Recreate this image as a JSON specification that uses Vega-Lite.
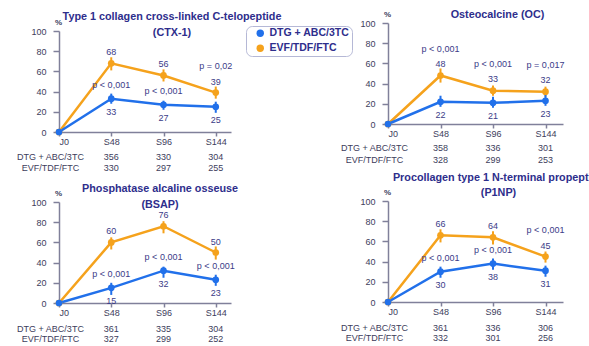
{
  "$schema": "https://vega.github.io/schema/vega-lite/v6.json",
  "padding": {"left": 16, "top": 9, "right": 0, "bottom": 0},
  "datasets": {
    "pts": [
      {"panel": "CTX", "week": 0, "group": "EVF/TDF/FTC", "value": 0, "lo": null, "hi": null, "n": null, "p": null},
      {"panel": "CTX", "week": 48, "group": "EVF/TDF/FTC", "value": 68, "lo": 61, "hi": 74, "n": 330, "p": null},
      {"panel": "CTX", "week": 96, "group": "EVF/TDF/FTC", "value": 56, "lo": 50, "hi": 62, "n": 297, "p": null},
      {"panel": "CTX", "week": 144, "group": "EVF/TDF/FTC", "value": 39, "lo": 33, "hi": 45, "n": 255, "p": "p = 0,02"},
      {"panel": "CTX", "week": 0, "group": "DTG + ABC/3TC", "value": 0, "lo": null, "hi": null, "n": null, "p": null},
      {"panel": "CTX", "week": 48, "group": "DTG + ABC/3TC", "value": 33, "lo": 28, "hi": 38, "n": 356, "p": "p < 0,001"},
      {"panel": "CTX", "week": 96, "group": "DTG + ABC/3TC", "value": 27, "lo": 22, "hi": 31, "n": 330, "p": "p < 0,001"},
      {"panel": "CTX", "week": 144, "group": "DTG + ABC/3TC", "value": 25, "lo": 19, "hi": 30, "n": 304, "p": null},

      {"panel": "OC", "week": 0, "group": "EVF/TDF/FTC", "value": 0, "lo": null, "hi": null, "n": null, "p": null},
      {"panel": "OC", "week": 48, "group": "EVF/TDF/FTC", "value": 48, "lo": 41, "hi": 55, "n": 328, "p": "p < 0,001"},
      {"panel": "OC", "week": 96, "group": "EVF/TDF/FTC", "value": 33, "lo": 28, "hi": 38, "n": 299, "p": "p < 0,001"},
      {"panel": "OC", "week": 144, "group": "EVF/TDF/FTC", "value": 32, "lo": 27, "hi": 37, "n": 253, "p": "p  = 0,017"},
      {"panel": "OC", "week": 0, "group": "DTG + ABC/3TC", "value": 0, "lo": null, "hi": null, "n": null, "p": null},
      {"panel": "OC", "week": 48, "group": "DTG + ABC/3TC", "value": 22, "lo": 17, "hi": 28, "n": 358, "p": null},
      {"panel": "OC", "week": 96, "group": "DTG + ABC/3TC", "value": 21, "lo": 16, "hi": 27, "n": 336, "p": null},
      {"panel": "OC", "week": 144, "group": "DTG + ABC/3TC", "value": 23, "lo": 18, "hi": 30, "n": 301, "p": null},

      {"panel": "BSAP", "week": 0, "group": "EVF/TDF/FTC", "value": 0, "lo": null, "hi": null, "n": null, "p": null},
      {"panel": "BSAP", "week": 48, "group": "EVF/TDF/FTC", "value": 60, "lo": 53, "hi": 65, "n": 327, "p": null},
      {"panel": "BSAP", "week": 96, "group": "EVF/TDF/FTC", "value": 76, "lo": 69, "hi": 81, "n": 299, "p": null},
      {"panel": "BSAP", "week": 144, "group": "EVF/TDF/FTC", "value": 50, "lo": 43, "hi": 56, "n": 252, "p": null},
      {"panel": "BSAP", "week": 0, "group": "DTG + ABC/3TC", "value": 0, "lo": null, "hi": null, "n": null, "p": null},
      {"panel": "BSAP", "week": 48, "group": "DTG + ABC/3TC", "value": 15, "lo": 8, "hi": 20, "n": 361, "p": "p < 0,001"},
      {"panel": "BSAP", "week": 96, "group": "DTG + ABC/3TC", "value": 32, "lo": 25, "hi": 36, "n": 335, "p": "p < 0,001"},
      {"panel": "BSAP", "week": 144, "group": "DTG + ABC/3TC", "value": 23, "lo": 17, "hi": 28, "n": 304, "p": "p < 0,001"},

      {"panel": "P1NP", "week": 0, "group": "EVF/TDF/FTC", "value": 0, "lo": null, "hi": null, "n": null, "p": null},
      {"panel": "P1NP", "week": 48, "group": "EVF/TDF/FTC", "value": 66, "lo": 59, "hi": 72, "n": 332, "p": null},
      {"panel": "P1NP", "week": 96, "group": "EVF/TDF/FTC", "value": 64, "lo": 57, "hi": 70, "n": 301, "p": null},
      {"panel": "P1NP", "week": 144, "group": "EVF/TDF/FTC", "value": 45, "lo": 39, "hi": 50, "n": 256, "p": "p < 0,001"},
      {"panel": "P1NP", "week": 0, "group": "DTG + ABC/3TC", "value": 0, "lo": null, "hi": null, "n": null, "p": null},
      {"panel": "P1NP", "week": 48, "group": "DTG + ABC/3TC", "value": 30, "lo": 24, "hi": 35, "n": 361, "p": "p < 0,001"},
      {"panel": "P1NP", "week": 96, "group": "DTG + ABC/3TC", "value": 38, "lo": 32, "hi": 43, "n": 336, "p": "p < 0,001"},
      {"panel": "P1NP", "week": 144, "group": "DTG + ABC/3TC", "value": 31, "lo": 25, "hi": 36, "n": 306, "p": null}
    ]
  },
  "config": {
    "font": "Liberation Sans",
    "view": {"stroke": null},
    "axis": {"grid": false, "domainColor": "#80809a", "tickColor": "#80809a", "domainWidth": 1.5, "tickWidth": 1.5, "labelColor": "#3d3d5c", "labelFontSize": 9, "labelFont": "Liberation Sans"},
    "axisX": {"tickSize": 4, "labelPadding": 1},
    "axisY": {"tickCount": 6, "tickSize": 6, "labelPadding": 7, "titleAngle": 0, "titleX": -1, "titleY": -9, "titleAlign": "center", "titleBaseline": "middle", "titleFontSize": 8, "titleFont": "Liberation Sans", "titleFontWeight": "bold", "titleColor": "#3d3d5c"},
    "title": {"color": "#2e2e8c", "fontSize": 10.8, "font": "Liberation Sans", "fontWeight": "bold", "anchor": "middle", "frame": "group"},
    "text": {"font": "Liberation Sans", "fontSize": 9, "color": "#3b3b88"},
    "legend": {"orient": "none", "legendX": 187, "legendY": 3, "title": null, "strokeColor": "#b5b8d6", "cornerRadius": 6, "padding": 2, "symbolOffset": 7, "fillColor": "#ffffff", "labelFont": "Liberation Sans", "labelFontWeight": "bold", "labelFontSize": 10.5, "labelColor": "#2e2e8c", "symbolType": "circle", "symbolSize": 55, "rowPadding": 4, "symbolStrokeWidth": 0}
  },
  "spacing": 58,
  "align": "none",
  "hconcat": [
    {
      "bounds": "flush",
      "spacing": 0,
      "vconcat": [
        {"width": 172, "height": 8, "data": {"values": []}, "mark": "point"},
        {
          "width": 172, "height": 101,
          "title": {"text": ["Type 1 collagen cross-linked C-telopeptide", "(CTX-1)"], "dx": 27, "dy": 15, "offset": -5, "lineHeight": 16},
          "data": {"name": "pts"},
          "transform": [{"filter": "datum.panel === 'CTX'"}],
          "encoding": {
            "x": {"field": "week", "type": "quantitative", "scale": {"domain": [0, 158]}, "axis": {"values": [0, 48, 96, 144], "labelExpr": "datum.value === 0 ? 'J0' : 'S' + datum.value", "title": null}},
            "color": {"field": "group", "type": "nominal", "scale": {"domain": ["DTG + ABC/3TC", "EVF/TDF/FTC"], "range": ["#2170ea", "#f5a21c"]}, "title": null}
          },
          "layer": [
            {"mark": {"type": "rule", "strokeWidth": 2}, "encoding": {"y": {"field": "lo", "type": "quantitative", "scale": {"domain": [0, 100]}, "title": "%"}, "y2": {"field": "hi"}}},
            {"mark": {"type": "line", "strokeWidth": 2.5}, "encoding": {"y": {"field": "value", "type": "quantitative", "title": "%"}}},
            {"mark": {"type": "point", "filled": true, "opacity": 1, "size": 45}, "encoding": {"y": {"field": "value", "type": "quantitative", "title": "%"}}},
            {"transform": [{"filter": "datum.week > 0 && datum.group === 'EVF/TDF/FTC'"}], "mark": {"type": "text", "dy": -11}, "encoding": {"y": {"field": "value", "type": "quantitative", "title": "%"}, "text": {"field": "value"}, "color": {"value": "#3b3b88"}}},
            {"transform": [{"filter": "datum.week > 0 && datum.group === 'DTG + ABC/3TC'"}], "mark": {"type": "text", "dy": 13}, "encoding": {"y": {"field": "value", "type": "quantitative", "title": "%"}, "text": {"field": "value"}, "color": {"value": "#3b3b88"}}},
            {"transform": [{"filter": "datum.p !== null && datum.group === 'EVF/TDF/FTC'"}], "mark": {"type": "text", "dy": -27}, "encoding": {"y": {"field": "value", "type": "quantitative", "title": "%"}, "text": {"field": "p"}, "color": {"value": "#3b3b88"}}},
            {"transform": [{"filter": "datum.p !== null && datum.group === 'DTG + ABC/3TC'"}], "mark": {"type": "text", "dy": -14}, "encoding": {"y": {"field": "value", "type": "quantitative", "title": "%"}, "text": {"field": "p"}, "color": {"value": "#3b3b88"}}}
          ]
        },
        {
          "width": 172, "height": 41.5,
          "data": {"name": "pts"},
          "transform": [{"filter": "datum.panel === 'CTX' && datum.week > 0"}],
          "mark": {"type": "text", "color": "#3d3d5c"},
          "encoding": {
            "x": {"field": "week", "type": "quantitative", "scale": {"domain": [0, 158]}, "axis": null},
            "y": {"field": "group", "type": "nominal", "scale": {"type": "band", "domain": ["DTG + ABC/3TC", "EVF/TDF/FTC"], "paddingInner": 0, "paddingOuter": 0.886, "align": 1}, "axis": {"title": null, "domain": false, "ticks": false, "tickSize": 0, "labelAlign": "center", "labelPadding": 9, "labelColor": "#3d3d5c"}},
            "text": {"field": "n"}
          }
        },
        {"width": 172, "height": 27.5, "data": {"values": []}, "mark": "point"},
        {
          "width": 172, "height": 101,
          "title": {"text": ["Phosphatase alcaline osseuse", "(BSAP)"], "dx": 15, "dy": 13, "offset": -8, "lineHeight": 16},
          "data": {"name": "pts"},
          "transform": [{"filter": "datum.panel === 'BSAP'"}],
          "encoding": {
            "x": {"field": "week", "type": "quantitative", "scale": {"domain": [0, 158]}, "axis": {"values": [0, 48, 96, 144], "labelExpr": "datum.value === 0 ? 'J0' : 'S' + datum.value", "title": null}},
            "color": {"field": "group", "type": "nominal", "scale": {"domain": ["DTG + ABC/3TC", "EVF/TDF/FTC"], "range": ["#2170ea", "#f5a21c"]}, "title": null}
          },
          "layer": [
            {"mark": {"type": "rule", "strokeWidth": 2}, "encoding": {"y": {"field": "lo", "type": "quantitative", "scale": {"domain": [0, 100]}, "title": "%"}, "y2": {"field": "hi"}}},
            {"mark": {"type": "line", "strokeWidth": 2.5}, "encoding": {"y": {"field": "value", "type": "quantitative", "title": "%"}}},
            {"mark": {"type": "point", "filled": true, "opacity": 1, "size": 45}, "encoding": {"y": {"field": "value", "type": "quantitative", "title": "%"}}},
            {"transform": [{"filter": "datum.week > 0 && datum.group === 'EVF/TDF/FTC'"}], "mark": {"type": "text", "dy": -11}, "encoding": {"y": {"field": "value", "type": "quantitative", "title": "%"}, "text": {"field": "value"}, "color": {"value": "#3b3b88"}}},
            {"transform": [{"filter": "datum.week > 0 && datum.group === 'DTG + ABC/3TC'"}], "mark": {"type": "text", "dy": 13}, "encoding": {"y": {"field": "value", "type": "quantitative", "title": "%"}, "text": {"field": "value"}, "color": {"value": "#3b3b88"}}},
            {"transform": [{"filter": "datum.p !== null && datum.group === 'EVF/TDF/FTC'"}], "mark": {"type": "text", "dy": -27}, "encoding": {"y": {"field": "value", "type": "quantitative", "title": "%"}, "text": {"field": "p"}, "color": {"value": "#3b3b88"}}},
            {"transform": [{"filter": "datum.p !== null && datum.group === 'DTG + ABC/3TC'"}], "mark": {"type": "text", "dy": -14}, "encoding": {"y": {"field": "value", "type": "quantitative", "title": "%"}, "text": {"field": "p"}, "color": {"value": "#3b3b88"}}}
          ]
        },
        {"width": 172, "height": 21, "data": {"values": []}, "mark": "point"},
        {
          "width": 172, "height": 20,
          "data": {"name": "pts"},
          "transform": [{"filter": "datum.panel === 'BSAP' && datum.week > 0"}],
          "mark": {"type": "text", "color": "#3d3d5c"},
          "encoding": {
            "x": {"field": "week", "type": "quantitative", "scale": {"domain": [0, 158]}, "axis": null},
            "y": {"field": "group", "type": "nominal", "scale": {"type": "band", "domain": ["DTG + ABC/3TC", "EVF/TDF/FTC"], "paddingInner": 0, "paddingOuter": 0, "align": 0}, "axis": {"title": null, "domain": false, "ticks": false, "tickSize": 0, "labelAlign": "center", "labelPadding": 9, "labelColor": "#3d3d5c"}},
            "text": {"field": "n"}
          }
        }
      ]
    },
    {
      "bounds": "flush",
      "spacing": 18,
      "vconcat": [
        {
          "width": 175, "height": 101,
          "title": {"text": "Osteocalcine (OC)", "dx": 22, "dy": 15, "offset": 5},
          "data": {"name": "pts"},
          "transform": [{"filter": "datum.panel === 'OC'"}],
          "encoding": {
            "x": {"field": "week", "type": "quantitative", "scale": {"domain": [0, 160]}, "axis": {"values": [0, 48, 96, 144], "labelExpr": "datum.value === 0 ? 'J0' : 'S' + datum.value", "title": null}},
            "color": {"field": "group", "type": "nominal", "scale": {"domain": ["DTG + ABC/3TC", "EVF/TDF/FTC"], "range": ["#2170ea", "#f5a21c"]}, "title": null}
          },
          "layer": [
            {"mark": {"type": "rule", "strokeWidth": 2}, "encoding": {"y": {"field": "lo", "type": "quantitative", "scale": {"domain": [0, 100]}, "title": "%"}, "y2": {"field": "hi"}}},
            {"mark": {"type": "line", "strokeWidth": 2.5}, "encoding": {"y": {"field": "value", "type": "quantitative", "title": "%"}}},
            {"mark": {"type": "point", "filled": true, "opacity": 1, "size": 45}, "encoding": {"y": {"field": "value", "type": "quantitative", "title": "%"}}},
            {"transform": [{"filter": "datum.week > 0 && datum.group === 'EVF/TDF/FTC'"}], "mark": {"type": "text", "dy": -12}, "encoding": {"y": {"field": "value", "type": "quantitative", "title": "%"}, "text": {"field": "value"}, "color": {"value": "#3b3b88"}}},
            {"transform": [{"filter": "datum.week > 0 && datum.group === 'DTG + ABC/3TC'"}], "mark": {"type": "text", "dy": 13}, "encoding": {"y": {"field": "value", "type": "quantitative", "title": "%"}, "text": {"field": "value"}, "color": {"value": "#3b3b88"}}},
            {"transform": [{"filter": "datum.p !== null && datum.group === 'EVF/TDF/FTC'"}], "mark": {"type": "text", "dy": -27}, "encoding": {"y": {"field": "value", "type": "quantitative", "title": "%"}, "text": {"field": "p"}, "color": {"value": "#3b3b88"}}},
            {"transform": [{"filter": "datum.p !== null && datum.group === 'DTG + ABC/3TC'"}], "mark": {"type": "text", "dy": -14}, "encoding": {"y": {"field": "value", "type": "quantitative", "title": "%"}, "text": {"field": "p"}, "color": {"value": "#3b3b88"}}}
          ]
        },
        {
          "width": 175, "height": 41,
          "data": {"name": "pts"},
          "transform": [{"filter": "datum.panel === 'OC' && datum.week > 0"}],
          "mark": {"type": "text", "color": "#3d3d5c"},
          "encoding": {
            "x": {"field": "week", "type": "quantitative", "scale": {"domain": [0, 160]}, "axis": null},
            "y": {"field": "group", "type": "nominal", "scale": {"type": "band", "domain": ["DTG + ABC/3TC", "EVF/TDF/FTC"], "paddingInner": 0, "paddingOuter": 0.708, "align": 0}, "axis": {"title": null, "domain": false, "ticks": false, "tickSize": 0, "labelAlign": "center", "labelPadding": 14, "labelColor": "#3d3d5c"}},
            "text": {"field": "n"}
          }
        },
        {
          "width": 175, "height": 101,
          "title": {"text": ["Procollagen type 1 N-terminal propeptide", "(P1NP)"], "dx": 23, "dy": 12, "offset": 2, "lineHeight": 15},
          "data": {"name": "pts"},
          "transform": [{"filter": "datum.panel === 'P1NP'"}],
          "encoding": {
            "x": {"field": "week", "type": "quantitative", "scale": {"domain": [0, 160]}, "axis": {"values": [0, 48, 96, 144], "labelExpr": "datum.value === 0 ? 'J0' : 'S' + datum.value", "title": null}},
            "color": {"field": "group", "type": "nominal", "scale": {"domain": ["DTG + ABC/3TC", "EVF/TDF/FTC"], "range": ["#2170ea", "#f5a21c"]}, "title": null}
          },
          "layer": [
            {"mark": {"type": "rule", "strokeWidth": 2}, "encoding": {"y": {"field": "lo", "type": "quantitative", "scale": {"domain": [0, 100]}, "title": "%"}, "y2": {"field": "hi"}}},
            {"mark": {"type": "line", "strokeWidth": 2.5}, "encoding": {"y": {"field": "value", "type": "quantitative", "title": "%"}}},
            {"mark": {"type": "point", "filled": true, "opacity": 1, "size": 45}, "encoding": {"y": {"field": "value", "type": "quantitative", "title": "%"}}},
            {"transform": [{"filter": "datum.week > 0 && datum.group === 'EVF/TDF/FTC'"}], "mark": {"type": "text", "dy": -11}, "encoding": {"y": {"field": "value", "type": "quantitative", "title": "%"}, "text": {"field": "value"}, "color": {"value": "#3b3b88"}}},
            {"transform": [{"filter": "datum.week > 0 && datum.group === 'DTG + ABC/3TC'"}], "mark": {"type": "text", "dy": 13}, "encoding": {"y": {"field": "value", "type": "quantitative", "title": "%"}, "text": {"field": "value"}, "color": {"value": "#3b3b88"}}},
            {"transform": [{"filter": "datum.p !== null && datum.group === 'EVF/TDF/FTC'"}], "mark": {"type": "text", "dy": -27}, "encoding": {"y": {"field": "value", "type": "quantitative", "title": "%"}, "text": {"field": "p"}, "color": {"value": "#3b3b88"}}},
            {"transform": [{"filter": "datum.p !== null && datum.group === 'DTG + ABC/3TC'"}], "mark": {"type": "text", "dy": -14}, "encoding": {"y": {"field": "value", "type": "quantitative", "title": "%"}, "text": {"field": "p"}, "color": {"value": "#3b3b88"}}}
          ]
        },
        {
          "width": 175, "height": 26,
          "data": {"name": "pts"},
          "transform": [{"filter": "datum.panel === 'P1NP' && datum.week > 0"}],
          "mark": {"type": "text", "color": "#3d3d5c"},
          "encoding": {
            "x": {"field": "week", "type": "quantitative", "scale": {"domain": [0, 160]}, "axis": null},
            "y": {"field": "group", "type": "nominal", "scale": {"type": "band", "domain": ["DTG + ABC/3TC", "EVF/TDF/FTC"], "paddingInner": 0, "paddingOuter": 0.3, "align": 0.5}, "axis": {"title": null, "domain": false, "ticks": false, "tickSize": 0, "labelAlign": "center", "labelPadding": 14, "labelColor": "#3d3d5c"}},
            "text": {"field": "n"}
          }
        }
      ]
    }
  ]
}
